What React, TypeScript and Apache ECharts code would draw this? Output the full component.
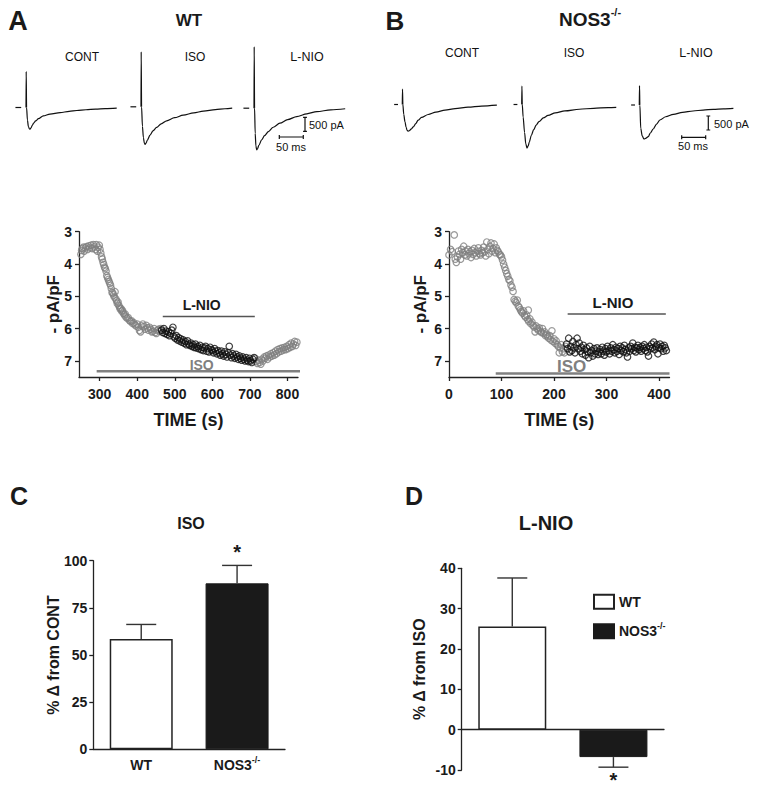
import React, { useEffect, useRef } from "react";
import * as echarts from "echarts";

const FONT = '"Liberation Sans", Arial, Helvetica, sans-serif';
const TXT = "#1a1a1a";
const GRAY = "#808080";

// ---------- Panel A/B example current traces: [time (ms), current (pA)] ----------
const wtContTrace = [[0,0],[0.4,1290],[1.2,0],[3,-450],[5,-680],[7,-760],[8.5,-775],[10.5,-730],[13,-640],[16,-560],[20,-480],[26,-400],[36,-300],[50,-235],[71,-180],[90,-140],[106,-107],[125,-80],[145,-55],[165,-38],[189,-22]];
const wtIsoTrace = [[0,0],[0.4,1965],[1.2,0],[3,-700],[5,-1100],[7,-1300],[8.5,-1345],[10.5,-1300],[13,-1200],[18.8,-1010],[25,-860],[32.6,-736],[42,-610],[53.5,-500],[70,-390],[88,-298],[110,-215],[130,-155],[155,-100],[175,-70],[190,-50]];
const wtLnioTrace = [[0,0],[0.4,2200],[1.2,0],[2.5,-900],[4,-1350],[5.6,-1490],[7.5,-1440],[10,-1330],[16,-1131],[22,-980],[30,-835],[40,-680],[54,-536],[70,-410],[89,-300],[110,-200],[131,-121],[160,-60],[190,-20]];
const nosContTrace = [[0,0],[0.4,550],[1.2,0],[3,-350],[5.6,-620],[8,-820],[10,-920],[12.5,-955],[15,-930],[18,-880],[23,-800],[28,-680],[33,-560],[40,-460],[54,-357],[70,-270],[89,-204],[110,-150],[137,-96],[165,-55],[197,-25]];
const nosIsoTrace = [[0,0],[0.4,660],[1.2,0],[3,-450],[6,-1000],[8.5,-1400],[11,-1555],[13.5,-1480],[16,-1330],[20,-1100],[25,-900],[30,-740],[36,-610],[45,-480],[55,-390],[70,-300],[90,-230],[120,-170],[150,-135],[180,-110],[197,-100]];
const nosLnioTrace = [[0,0],[0.4,690],[1.2,0],[3,-833],[6,-1100],[9.8,-1215],[13,-1190],[18.8,-1131],[23,-1000],[29,-857],[36,-680],[43,-536],[55,-420],[71,-333],[90,-265],[112,-214],[133,-180],[154,-155],[175,-135],[196,-119]];
const holdDashA = [[-22,0],[-10,0]];
const holdDashB = [[-17,0],[-9,0]];
const scaleMs = 50;
const scalePA = 500;

// ---------- Panel A/B time courses: [time (s), -pA/pF] ----------
const wtIsoPre = [[250,3.70],[252,3.58],[254,3.52],[257,3.48],[259,3.60],[262,3.50],[265,3.46],[268,3.55],[271,3.44],[274,3.50],[277,3.42],[280,3.52],[283,3.40],[286,3.47],[289,3.55],[291,3.40],[294,3.60],[296,3.48],[299,3.42],[301,3.55],[303,3.66],[305,3.78],[307,3.85],[309,3.95],[311,4.02],[313,4.10],[315,4.14],[317,4.22],[319,4.36],[321,4.42],[323,4.48],[325,4.54],[327,4.60],[329,4.66],[331,4.76],[333,4.88],[335,4.90],[337,4.96],[339,5.02],[341,4.86],[343,5.08],[345,5.14],[347,5.22],[349,5.18],[351,5.28],[353,5.34],[355,5.40],[357,5.38],[359,5.46],[361,5.44],[363,5.52],[366,5.58],[368,5.55],[370,5.64],[373,5.68],[376,5.66],[379,5.74],[382,5.78],[385,5.76],[388,5.84],[391,5.82],[394,5.88],[397,5.92],[400,5.86],[403,5.96],[406,6.06],[409,6.10],[412,5.92],[415,5.86],[418,5.94],[421,6.02],[424,5.90],[427,5.98],[430,6.05],[433,5.96],[436,6.02],[439,6.10],[442,6.08],[445,6.00],[448,6.12],[451,6.15],[454,6.05],[457,6.02],[460,6.08],[463,6.00]];
const wtLnio = [[465,6.05],[468,6.12],[471,6.00],[474,6.15],[477,6.08],[480,6.18],[483,6.10],[486,6.22],[489,6.15],[492,6.05],[495,5.96],[498,6.25],[501,6.30],[504,6.22],[507,6.35],[510,6.28],[513,6.38],[516,6.32],[519,6.42],[522,6.35],[525,6.45],[528,6.40],[531,6.50],[534,6.38],[537,6.48],[540,6.52],[543,6.45],[546,6.55],[549,6.50],[552,6.58],[555,6.48],[558,6.60],[561,6.55],[564,6.62],[567,6.52],[570,6.65],[573,6.58],[576,6.68],[579,6.60],[582,6.55],[585,6.70],[588,6.62],[591,6.72],[594,6.58],[597,6.65],[600,6.68],[603,6.75],[606,6.62],[609,6.70],[612,6.78],[615,6.68],[618,6.75],[621,6.82],[624,6.70],[627,6.78],[630,6.85],[633,6.72],[636,6.80],[639,6.88],[642,6.75],[645,6.55],[648,6.82],[651,6.90],[654,6.78],[657,6.85],[660,6.92],[663,6.80],[666,6.88],[669,6.95],[672,6.85],[675,6.92],[678,6.98],[681,6.88],[684,6.95],[687,7.00],[690,6.90],[693,6.98],[696,7.02],[699,6.92],[702,7.00],[705,7.05],[708,6.95],[711,6.90]];
const wtWash = [[714,6.92],[717,7.02],[720,7.08],[723,6.98],[726,7.05],[729,7.10],[732,6.95],[735,7.00],[738,6.88],[741,6.92],[744,6.85],[747,6.95],[750,6.82],[753,6.88],[756,6.78],[759,6.85],[762,6.75],[765,6.82],[768,6.70],[771,6.78],[774,6.65],[777,6.72],[780,6.62],[783,6.70],[786,6.60],[789,6.66],[792,6.58],[795,6.65],[798,6.55],[801,6.62],[804,6.50],[807,6.58],[810,6.45],[813,6.55],[816,6.48],[819,6.40],[822,6.52],[825,6.42]];
const nosIso = [[0,3.72],[3,3.55],[6,3.62],[10,3.10],[12,3.85],[14,3.95],[16,3.78],[18,3.60],[20,3.70],[22,3.85],[24,3.55],[26,3.65],[28,3.45],[30,3.72],[32,3.60],[34,3.75],[36,3.55],[38,3.68],[40,3.62],[42,3.80],[44,3.58],[46,3.70],[48,3.52],[50,3.65],[52,3.75],[54,3.60],[56,3.50],[58,3.68],[60,3.72],[62,3.58],[64,3.65],[66,3.48],[68,3.62],[70,3.75],[72,3.32],[74,3.55],[76,3.68],[78,3.45],[80,3.35],[82,3.60],[84,3.52],[86,3.38],[88,3.65],[90,3.50],[92,3.58],[94,3.62],[96,3.70],[98,3.72],[100,3.78],[102,3.88],[104,4.00],[106,4.10],[108,4.20],[110,4.30],[112,4.38],[114,4.48],[116,4.52],[118,4.65],[120,4.72],[122,4.85],[124,5.10],[126,5.15],[128,5.20],[130,5.12],[132,5.30],[134,5.35],[136,5.42],[138,5.48],[140,5.52],[142,5.45],[144,5.60],[146,5.65],[148,5.58],[150,5.72],[151,5.43],[152,5.78],[154,5.70],[156,5.85],[158,5.80],[160,5.90],[162,5.95],[164,6.10],[166,5.92],[168,6.00],[170,6.05],[172,5.98],[174,6.08],[176,6.12],[178,6.00],[180,6.15],[182,6.10],[184,6.22],[186,6.18],[188,6.25],[190,6.30],[192,6.22],[194,6.35],[196,6.07],[198,6.40],[200,6.32],[202,6.45],[204,6.38],[206,6.50],[208,6.55],[210,6.75],[212,6.60],[214,6.50],[216,6.72],[218,6.62],[220,6.75],[222,6.55]];
const nosLnio = [[224,6.48],[226,6.62],[228,6.30],[230,6.72],[232,6.55],[234,6.68],[236,6.40],[238,6.60],[240,6.75],[242,6.50],[244,6.30],[246,6.62],[248,6.45],[250,6.70],[252,6.58],[254,6.78],[256,6.52],[258,6.65],[260,6.82],[262,6.60],[264,6.72],[266,6.90],[268,6.55],[270,6.75],[272,6.68],[274,6.85],[276,6.62],[278,6.78],[280,6.70],[282,6.60],[284,6.80],[286,6.72],[288,6.65],[290,6.78],[292,6.58],[294,6.70],[296,6.82],[298,6.62],[300,6.72],[302,6.55],[304,6.68],[306,6.78],[308,6.60],[310,6.70],[312,6.50],[314,6.65],[316,6.75],[318,6.58],[320,6.70],[322,6.62],[324,6.80],[326,6.55],[328,6.68],[330,6.60],[332,6.72],[334,6.52],[336,6.65],[338,6.75],[340,6.88],[342,6.60],[344,6.70],[346,6.55],[348,6.62],[350,6.45],[352,6.68],[354,6.58],[356,6.72],[358,6.60],[360,6.52],[362,6.65],[364,6.58],[366,6.70],[368,6.55],[370,6.62],[372,6.50],[374,6.68],[376,6.58],[378,6.72],[380,6.85],[382,6.55],[384,6.62],[386,6.48],[388,6.60],[390,6.42],[392,6.65],[394,6.55],[396,6.50],[398,6.78],[400,6.60],[402,6.48],[404,6.62],[406,6.55],[408,6.70],[410,6.52],[412,6.60],[414,6.68]];
const wtLnioPeriod = [[468,5.63],[713,5.63]];
const wtIsoPeriod = [[292,7.32],[837,7.32]];
const nosLnioPeriod = [[226,5.55],[413,5.55]];
const nosIsoPeriod = [[89,7.39],[420,7.39]];
const wtTimeTicks = [300, 400, 500, 600, 700, 800];
const nosTimeTicks = [0, 100, 200, 300, 400];
const densityTicks = [3, 4, 5, 6, 7];

// ---------- Panels C/D summary bars ----------
const groups = ["WT", "NOS3"];
const isoMean = [58.5, 88];
const isoSem = [7.7, 9.5];
const isoSig = ["", "*"];
const lnioMean = [25.6, -6.8];
const lnioSem = [12.0, 2.5];
const lnioSig = ["", "*"];

const MS = 0.48, PA = 0.028, T0 = -30, T1 = 200, I0 = -1800, I1 = 2400;
const traceGrid = (spikeX: number, baseY: number) => ({
  left: spikeX + T0 * MS, top: baseY - I1 * PA, width: (T1 - T0) * MS, height: (I1 - I0) * PA,
  outerBoundsMode: "none",
});

const axisLineStyle = { color: "#222", width: 1.3 };
const richSup = {
  b: { fontSize: 14, fontWeight: "bold", color: TXT, fontFamily: FONT, lineHeight: 20 },
  s: { fontSize: 9, fontWeight: "bold", color: TXT, fontFamily: FONT, lineHeight: 10, verticalAlign: "top" },
};
const supFormat = (name: string) => (name === "NOS3" ? "{b|NOS3}{s|-/-}" : `{b|${name}}`);

const txt = (x: number, y: number, text: string, fontSize: number, extra: any = {}) => ({
  type: "text", x, y, silent: true,
  style: {
    text, fontSize, fontFamily: FONT, fontWeight: "bold", fill: TXT,
    align: "center", verticalAlign: "middle", textAlign: "center", textVerticalAlign: "middle", ...extra,
  },
});

const errRender = (sig: string[]) => (params: any, api: any) => {
  const i = params.dataIndex;
  const cat = api.value(0), m = api.value(1), e = api.value(2);
  const dir = m >= 0 ? 1 : -1;
  const p0 = api.coord([cat, m]);
  const p1 = api.coord([cat, m + dir * e]);
  const hw = 15;
  const st = { stroke: "#333", lineWidth: 1.4 };
  const children: any[] = [
    { type: "line", shape: { x1: p0[0], y1: p0[1], x2: p1[0], y2: p1[1] }, style: st },
    { type: "line", shape: { x1: p1[0] - hw, y1: p1[1], x2: p1[0] + hw, y2: p1[1] }, style: st },
  ];
  if (sig[i]) {
    children.push({
      type: "text", x: p1[0], y: p1[1] - dir * 13,
      style: { text: sig[i], fontSize: 20, fontWeight: "bold", fontFamily: FONT, fill: TXT,
        align: "center", verticalAlign: "middle", textAlign: "center", textVerticalAlign: "middle" },
    });
  }
  return { type: "group", children };
};

function scaleBar(t: number, top: number, hx0: number, hy: number) {
  const v = [[t - 4, top], [t + 4, top], [t, top], [t, top - scalePA], [t - 4, top - scalePA], [t + 4, top - scalePA]];
  const h = [[hx0, hy + 70], [hx0, hy - 70], [hx0, hy], [hx0 + scaleMs, hy], [hx0 + scaleMs, hy + 70], [hx0 + scaleMs, hy - 70]];
  return [v, h];
}

function buildOption() {
  const traces = [
    { data: wtContTrace, dash: holdDashA, g: traceGrid(26, 107.5) },
    { data: wtIsoTrace, dash: holdDashA, g: traceGrid(141, 106.8) },
    { data: wtLnioTrace, dash: holdDashA, g: traceGrid(254, 108.2) },
    { data: nosContTrace, dash: holdDashB, g: traceGrid(402.3, 104.5) },
    { data: nosIsoTrace, dash: holdDashB, g: traceGrid(521.7, 104.5) },
    { data: nosLnioTrace, dash: holdDashB, g: traceGrid(639.3, 105) },
  ];
  const grid: any[] = traces.map((t) => t.g);
  grid.push({ left: 79, top: 231.7, width: 219, height: 145.3, outerBoundsMode: "none" });
  grid.push({ left: 449, top: 231.7, width: 220.5, height: 145.3, outerBoundsMode: "none" });
  grid.push({ left: 93.3, top: 560.7, width: 191.7, height: 188.6, outerBoundsMode: "none" });
  grid.push({ left: 461.7, top: 568.3, width: 202.3, height: 201.7, outerBoundsMode: "none" });

  const xAxis: any[] = traces.map((_, i) => ({ gridIndex: i, type: "value", min: T0, max: T1, show: false }));
  const yAxis: any[] = traces.map((_, i) => ({ gridIndex: i, type: "value", min: I0, max: I1, show: false }));

  const labelStyle = { fontSize: 14, fontWeight: "bold", color: TXT, fontFamily: FONT };
  const nameStyle = (size: number) => ({ fontSize: size, fontWeight: "bold", color: TXT, fontFamily: FONT });

  const timeAxis = (gi: number, min: number, max: number, ticks: number[]) => ({
    gridIndex: gi, type: "value", min, max,
    axisLine: { show: true, onZero: false, lineStyle: axisLineStyle },
    axisTick: { show: true, length: 4, customValues: ticks, lineStyle: axisLineStyle },
    axisLabel: { customValues: ticks, margin: 10, ...labelStyle },
    splitLine: { show: false },
    name: "TIME (s)", nameLocation: "middle", nameGap: 34, nameMoveOverlap: false, nameTextStyle: nameStyle(18),
  });
  const densAxis = (gi: number, gap: number) => ({
    gridIndex: gi, type: "value", min: 3, max: 7.5, inverse: true,
    axisLine: { show: true, onZero: false, lineStyle: axisLineStyle },
    axisTick: { show: true, length: 4, customValues: densityTicks, lineStyle: axisLineStyle },
    axisLabel: { customValues: densityTicks, margin: 7, ...labelStyle },
    splitLine: { show: false },
    name: "- pA/pF", nameLocation: "middle", nameRotate: 90, nameGap: gap, nameMoveOverlap: false, nameTextStyle: nameStyle(17),
  });
  xAxis.push(timeAxis(6, 245, 828, wtTimeTicks));
  yAxis.push(densAxis(6, 17));
  xAxis.push(timeAxis(7, 0, 420, nosTimeTicks));
  yAxis.push(densAxis(7, 20));

  xAxis.push({
    gridIndex: 8, type: "category", data: groups,
    axisLine: { show: true, lineStyle: axisLineStyle }, axisTick: { show: false },
    axisLabel: { margin: 6, interval: 0, hideOverlap: false, formatter: supFormat, rich: richSup },
  });
  yAxis.push({
    gridIndex: 8, type: "value", min: 0, max: 100, interval: 25,
    axisLine: { show: true, lineStyle: axisLineStyle },
    axisTick: { show: true, length: 4, lineStyle: axisLineStyle },
    axisLabel: { margin: 6, ...labelStyle }, splitLine: { show: false },
    name: "% \u0394 from CONT", nameLocation: "middle", nameRotate: 90, nameGap: 32, nameMoveOverlap: false,
    nameTextStyle: nameStyle(16),
  });
  xAxis.push({
    gridIndex: 9, type: "category", data: groups,
    axisLine: { show: true, onZero: true, lineStyle: axisLineStyle }, axisTick: { show: false },
    axisLabel: { show: false },
  });
  yAxis.push({
    gridIndex: 9, type: "value", min: -10, max: 40, interval: 10,
    axisLine: { show: true, onZero: false, lineStyle: axisLineStyle },
    axisTick: { show: true, length: 4, lineStyle: axisLineStyle },
    axisLabel: { margin: 6, ...labelStyle }, splitLine: { show: false },
    name: "% \u0394 from ISO", nameLocation: "middle", nameRotate: 90, nameGap: 34, nameMoveOverlap: false,
    nameTextStyle: nameStyle(16),
  });

  const series: any[] = [];
  traces.forEach((t, i) => {
    series.push({
      type: "line", xAxisIndex: i, yAxisIndex: i, data: t.data, showSymbol: false, symbol: "none",
      smooth: 0.3, smoothMonotone: "x", clip: false, silent: true,
      lineStyle: { color: "#111", width: 1.2 },
    });
    series.push({
      type: "line", xAxisIndex: i, yAxisIndex: i, data: t.dash, showSymbol: false, symbol: "none",
      clip: false, silent: true, lineStyle: { color: "#111", width: 1.2 },
    });
  });
  const bars = [
    { gi: 2, parts: scaleBar(106.25, -325, 52.7, -1029) },
    { gi: 5, parts: scaleBar(143.75, -393, 88.3, -1154) },
  ];
  bars.forEach((b) =>
    b.parts.forEach((d) =>
      series.push({
        type: "line", xAxisIndex: b.gi, yAxisIndex: b.gi, data: d, showSymbol: false, symbol: "none",
        clip: false, silent: true, lineStyle: { color: "#111", width: 1.2 },
      })
    )
  );

  const scat = (gi: number, data: number[][], color: string) => ({
    type: "scatter", xAxisIndex: gi, yAxisIndex: gi, data, symbol: "circle", symbolSize: 6.5, silent: true,
    itemStyle: { color: "rgba(255,255,255,0)", borderColor: color, borderWidth: 1.2 },
  });
  series.push(scat(6, wtIsoPre, GRAY), scat(6, wtWash, GRAY), scat(6, wtLnio, "#111"));
  series.push(scat(7, nosIso, GRAY), scat(7, nosLnio, "#111"));
  const period = (gi: number, data: number[][], color: string, width: number) => ({
    type: "line", xAxisIndex: gi, yAxisIndex: gi, data, showSymbol: false, symbol: "none",
    clip: false, silent: true, lineStyle: { color, width },
  });
  series.push(period(6, wtLnioPeriod, "#555", 1.5), period(6, wtIsoPeriod, GRAY, 2.6));
  series.push(period(7, nosLnioPeriod, "#555", 1.5), period(7, nosIsoPeriod, GRAY, 2.6));

  const wtStyle = { color: "#fff", borderColor: "#222", borderWidth: 1.5 };
  const koStyle = { color: "#1a1a1a", borderColor: "#1a1a1a", borderWidth: 1 };
  const barPair = (gi: number, means: number[], width: number) => [
    { type: "bar", name: "WT", xAxisIndex: gi, yAxisIndex: gi, data: [means[0], "-"], barWidth: width, barGap: "-100%", itemStyle: wtStyle, silent: true },
    { type: "bar", name: "NOS3", xAxisIndex: gi, yAxisIndex: gi, data: ["-", means[1]], barWidth: width, barGap: "-100%", itemStyle: koStyle, silent: true },
  ];
  series.push(...barPair(8, isoMean, 63), ...barPair(9, lnioMean, 68));
  series.push({
    type: "custom", xAxisIndex: 8, yAxisIndex: 8, z: 5, silent: true, encode: { x: 0, y: 1 },
    data: groups.map((_, i) => [i, isoMean[i], isoSem[i]]), renderItem: errRender(isoSig),
  });
  series.push({
    type: "custom", xAxisIndex: 9, yAxisIndex: 9, z: 5, silent: true, encode: { x: 0, y: 1 },
    data: groups.map((_, i) => [i, lnioMean[i], lnioSem[i]]), renderItem: errRender(lnioSig),
  });

  const titleRich = {
    b: { fontSize: 19, fontWeight: "bold", fill: TXT, fontFamily: FONT, lineHeight: 26 },
    s: { fontSize: 11, fontWeight: "bold", fill: TXT, fontFamily: FONT, lineHeight: 12, verticalAlign: "top" },
  };
  const plain = { fontWeight: "normal", fill: "#111" };
  const graphic = [
    txt(18, 21, "A", 27), txt(395, 21, "B", 26), txt(19, 496, "C", 25), txt(414, 496, "D", 25),
    txt(189, 20, "WT", 17),
    txt(590, 19, "{b|NOS3}{s|-/-}", 19, { rich: titleRich }),
    txt(82, 57, "CONT", 12, plain),
    txt(195, 57, "ISO", 12, plain),
    txt(307, 57, "L-NIO", 12.5, plain),
    txt(462, 53, "CONT", 12, plain),
    txt(574, 53, "ISO", 12, plain),
    txt(696, 53, "L-NIO", 12.5, plain),
    txt(309, 125, "500 pA", 11, { ...plain, align: "left", textAlign: "left" }),
    txt(291, 147, "50 ms", 11, plain),
    txt(714, 124, "500 pA", 11, { ...plain, align: "left", textAlign: "left" }),
    txt(693, 146, "50 ms", 11, plain),
    txt(201.7, 305, "L-NIO", 14),
    txt(201.7, 365, "ISO", 14, { fill: GRAY }),
    txt(613, 302, "L-NIO", 15),
    txt(571.7, 366.5, "ISO", 17, { fill: GRAY }),
    txt(191, 523, "ISO", 16),
    txt(546, 523, "L-NIO", 20),
  ];

  return {
    animation: false,
    backgroundColor: "#fff",
    textStyle: { fontFamily: FONT },
    grid, xAxis, yAxis, series, graphic,
    legend: {
      data: groups, orient: "vertical", left: 588, top: 588.7, itemWidth: 20, itemHeight: 14, itemGap: 11.6,
      icon: "rect", selectedMode: false, formatter: supFormat,
      textStyle: { fontSize: 14, fontWeight: "bold", color: TXT, fontFamily: FONT, rich: richSup },
    },
  };
}

export default function App() {
  const ref = useRef<HTMLDivElement>(null);
  useEffect(() => {
    document.body.style.margin = "0";
    const chart = echarts.init(ref.current!, null, { renderer: "svg" });
    chart.setOption(buildOption() as any);
    return () => chart.dispose();
  }, []);
  return <div ref={ref} style={{ width: 759, height: 793, background: "#fff" }} />;
}
